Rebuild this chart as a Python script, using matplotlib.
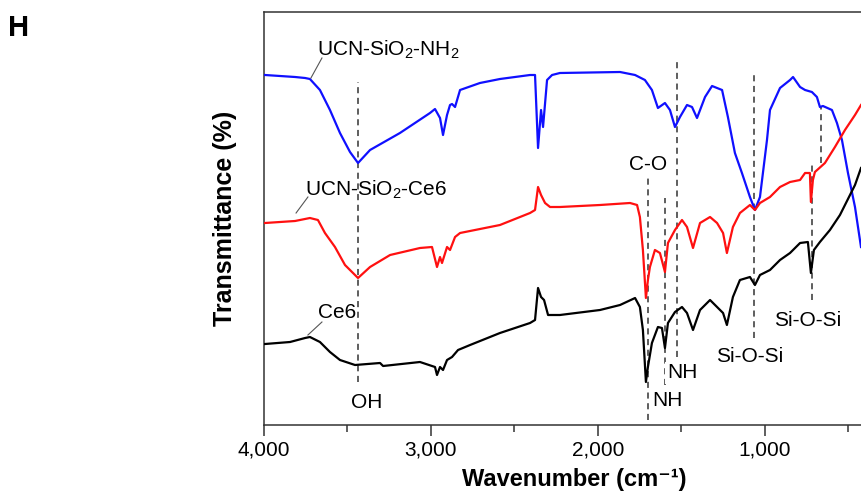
import matplotlib
matplotlib.use("Agg")
import matplotlib.pyplot as plt
from matplotlib.ticker import FuncFormatter, MultipleLocator

plt.rcParams['font.family'] = ['Liberation Sans', 'DejaVu Sans']
plt.rcParams['mathtext.default'] = 'regular'

# FTIR spectra (wavenumber in cm-1, transmittance in offset arbitrary units)
wn_nh2 = [3994, 3904, 3814, 3754, 3725, 3665, 3605, 3545, 3485, 3437, 3365, 3186, 3006,
          2976, 2946, 2928, 2904, 2886, 2874, 2856, 2826, 2707, 2587, 2407, 2377, 2359,
          2341, 2329, 2305, 2275, 2228, 1868, 1778, 1719, 1677, 1641, 1599, 1569, 1539,
          1509, 1467, 1437, 1407, 1359, 1317, 1257, 1222, 1180, 1138, 1090, 1060, 1030,
          988, 970, 910, 850, 832, 790, 760, 719, 689, 671, 653, 599, 569, 539, 503, 461, 425]
t_nh2 = [350, 349, 348, 347, 346, 335, 315, 292, 273, 262, 275, 292, 312,
         316, 307, 290, 310, 320, 321, 318, 335, 342, 346, 350, 350, 277,
         315, 298, 345, 350, 352, 353, 350, 345, 335, 317, 322, 315, 298,
         308, 320, 318, 307, 328, 339, 335, 308, 272, 252, 228, 215, 228,
         285, 315, 337, 345, 348, 338, 335, 333, 328, 318, 319, 315, 302, 285, 252, 218, 178]

wn_ce6_ucn = [3994, 3904, 3814, 3725, 3677, 3635, 3575, 3515, 3437, 3365, 3245, 3066, 2994,
              2964, 2946, 2934, 2904, 2886, 2856, 2826, 2587, 2407, 2377, 2359, 2341, 2317,
              2287, 2228, 1988, 1808, 1766, 1749, 1731, 1713, 1701, 1689, 1659, 1629, 1599,
              1581, 1539, 1497, 1467, 1431, 1389, 1329, 1287, 1251, 1228, 1192, 1150, 1090,
              1060, 1030, 970, 910, 850, 790, 760, 731, 725, 713, 701, 641, 581, 521, 461, 425]
t_ce6_ucn = [202, 203, 204, 207, 205, 192, 178, 160, 147, 158, 170, 177, 178,
             158, 168, 162, 178, 175, 188, 192, 200, 212, 215, 238, 230, 222,
             218, 218, 220, 222, 220, 208, 175, 127, 145, 158, 175, 172, 153,
             182, 195, 205, 198, 177, 202, 208, 202, 192, 172, 198, 212, 220,
             215, 222, 228, 238, 243, 245, 252, 252, 223, 245, 253, 262, 278, 295, 310, 320]

wn_ce6 = [3994, 3844, 3754, 3725, 3665, 3605, 3545, 3455, 3305, 3287, 3066, 2976, 2964,
          2946, 2928, 2904, 2874, 2838, 2766, 2587, 2407, 2377, 2359, 2341, 2323, 2299,
          2228, 1988, 1868, 1778, 1749, 1731, 1713, 1701, 1677, 1641, 1617, 1599, 1581,
          1539, 1497, 1467, 1431, 1389, 1329, 1287, 1251, 1228, 1192, 1150, 1090, 1060,
          1030, 970, 910, 850, 790, 743, 725, 707, 671, 611, 551, 491, 461, 425]
t_ce6 = [81, 83, 87, 88, 83, 73, 65, 60, 62, 59, 63, 58, 50,
         58, 55, 65, 68, 75, 80, 92, 102, 105, 137, 128, 125, 110,
         110, 115, 120, 127, 118, 95, 43, 58, 82, 98, 97, 77, 102,
         113, 118, 112, 95, 115, 125, 118, 112, 100, 128, 145, 148, 140,
         150, 155, 165, 172, 182, 183, 152, 175, 183, 195, 210, 230, 240, 257]

# band markers: position, top, bottom
band_wn = [3437, 1701, 1599, 1527, 1066, 719, 665]
band_top = [343, 253, 227, 365, 350, 263, 318]
band_bottom = [43, 5, 40, 68, 87, 125, 262]

band_labels = ['OH', 'C-O', 'NH', 'NH', 'Si-O-Si', 'Si-O-Si']
band_label_x = [3383, 1701, 1587, 1497, 1090, 743]
band_label_y = [22, 260, 25, 52, 68, 105]

series_names = ['UCN-SiO$_2$-NH$_2$', 'UCN-SiO$_2$-Ce6', 'Ce6']
name_x = [3683, 3754, 3677]
name_y = [375, 235, 113]
leader_start = [(3653, 367), (3737, 228), (3653, 103)]
leader_end = [(3719, 347), (3808, 212), (3737, 90)]

fig = plt.figure(figsize=(8.61, 5.0), dpi=100)
ax = fig.add_axes([264 / 861, 75 / 500, 597 / 861, 413 / 500])

ax.plot(wn_nh2, t_nh2, color='#1010ff', lw=1.6, zorder=3)
ax.plot(wn_ce6_ucn, t_ce6_ucn, color='#ff1010', lw=1.6, zorder=3)
ax.plot(wn_ce6, t_ce6, color='black', lw=1.6, zorder=3)

for x, top, bot in zip(band_wn, band_top, band_bottom):
    ax.plot([x, x], [bot, top], color='#333333', lw=1.1, ls=(0, (4, 3)), zorder=2)

for s, x, y in zip(band_labels, band_label_x, band_label_y):
    ax.text(x, y, s, fontsize=15, ha='center', va='center', zorder=4,
            bbox=dict(facecolor='white', edgecolor='none', pad=1))

for s, x, y, p0, p1 in zip(series_names, name_x, name_y, leader_start, leader_end):
    ax.text(x, y, s, fontsize=15, ha='left', va='center', zorder=4)
    ax.plot([p0[0], p1[0]], [p0[1], p1[1]], color='#555555', lw=0.8, zorder=4)

ax.set_xlim(4000, 425)
ax.set_ylim(0, 413)
ax.xaxis.set_major_locator(MultipleLocator(1000))
ax.xaxis.set_minor_locator(MultipleLocator(500))
ax.xaxis.set_major_formatter(FuncFormatter(lambda v, p: '{:,.0f}'.format(v)))
ax.tick_params(axis='x', which='major', length=8, width=1.1, labelsize=15, pad=3, color='#333333')
ax.tick_params(axis='x', which='minor', length=5, width=1.1, color='#333333')
ax.set_yticks([])
ax.spines['right'].set_visible(False)
for side in ['left', 'top', 'bottom']:
    ax.spines[side].set_linewidth(1.1)
    ax.spines[side].set_color('#333333')

ax.set_xlabel('Wavenumber (cm⁻¹)', fontsize=17, fontweight='bold')
ax.xaxis.set_label_coords(0.52, -0.105)
ax.set_ylabel('Transmittance (%)', fontsize=18, fontweight='bold')
ax.yaxis.set_label_coords(-0.045, 0.5)

fig.text(8 / 861, 1 - 28 / 500, 'H', fontsize=21, fontweight='bold', va='center', ha='left')

fig.savefig('out.png', dpi=100)
